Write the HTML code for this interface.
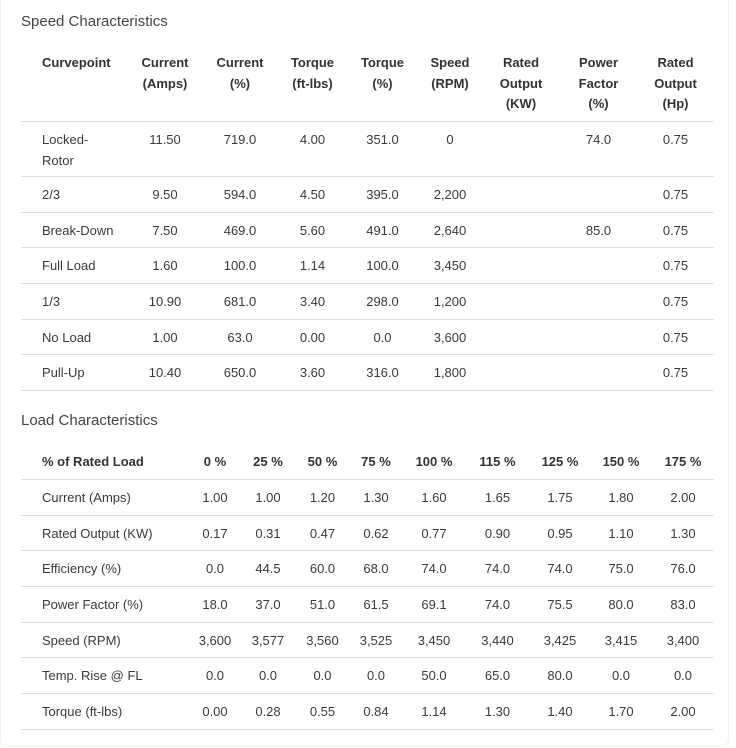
<!DOCTYPE html>
<html><head><meta charset="utf-8"><style>
body{margin:0;background:#fff;width:736px;height:748px;overflow:hidden;font-family:"Liberation Sans",sans-serif;color:#3a3a3a;}
.card{position:absolute;left:0;top:-10px;width:727px;height:754px;border:1px solid #f0f0f0;border-radius:6px;}
.title{position:absolute;left:21px;font-size:15px;color:#444;line-height:20px;}
table{position:absolute;left:21px;border-collapse:collapse;table-layout:fixed;font-size:13px;}
td,th{padding:0;text-align:center;border-bottom:1px solid #ddd;line-height:21px;}
th{font-weight:bold;color:#333;}
td:first-child,th:first-child{text-align:left;padding-left:21px;}
#sp th{vertical-align:top;padding-top:10px;height:68px;line-height:20.5px;}
#sp tr.r td{height:34.7px;}
#ld th{height:27px;padding-top:36px;vertical-align:top;line-height:20px;}
#ld tr.r td{height:34.7px;}
</style></head><body>
<div class="card"></div>
<div class="title" style="top:12px">Speed Characteristics</div>
<table id="sp" style="top:43px;width:693px">
<colgroup><col style="width:107px"><col style="width:74px"><col style="width:76px"><col style="width:69px"><col style="width:71px"><col style="width:64px"><col style="width:78px"><col style="width:77px"><col style="width:77px"></colgroup>
<tr><th>Curvepoint</th><th>Current<br>(Amps)</th><th>Current<br>(%)</th><th>Torque<br>(ft-lbs)</th><th>Torque<br>(%)</th><th>Speed<br>(RPM)</th><th>Rated<br>Output<br>(KW)</th><th>Power<br>Factor<br>(%)</th><th>Rated<br>Output<br>(Hp)</th></tr>
<tr><td style="height:47px;vertical-align:top;padding-top:7px">Locked-<br>Rotor</td><td style="vertical-align:top;padding-top:7px">11.50</td><td style="vertical-align:top;padding-top:7px">719.0</td><td style="vertical-align:top;padding-top:7px">4.00</td><td style="vertical-align:top;padding-top:7px">351.0</td><td style="vertical-align:top;padding-top:7px">0</td><td></td><td style="vertical-align:top;padding-top:7px">74.0</td><td style="vertical-align:top;padding-top:7px">0.75</td></tr>
<tr class="r"><td>2/3</td><td>9.50</td><td>594.0</td><td>4.50</td><td>395.0</td><td>2,200</td><td></td><td></td><td>0.75</td></tr>
<tr class="r"><td>Break-Down</td><td>7.50</td><td>469.0</td><td>5.60</td><td>491.0</td><td>2,640</td><td></td><td>85.0</td><td>0.75</td></tr>
<tr class="r"><td>Full Load</td><td>1.60</td><td>100.0</td><td>1.14</td><td>100.0</td><td>3,450</td><td></td><td></td><td>0.75</td></tr>
<tr class="r"><td>1/3</td><td>10.90</td><td>681.0</td><td>3.40</td><td>298.0</td><td>1,200</td><td></td><td></td><td>0.75</td></tr>
<tr class="r"><td>No Load</td><td>1.00</td><td>63.0</td><td>0.00</td><td>0.0</td><td>3,600</td><td></td><td></td><td>0.75</td></tr>
<tr class="r"><td>Pull-Up</td><td>10.40</td><td>650.0</td><td>3.60</td><td>316.0</td><td>1,800</td><td></td><td></td><td>0.75</td></tr>
</table>
<div class="title" style="top:411px">Load Characteristics</div>
<table id="ld" style="top:416px;width:693px">
<colgroup><col style="width:169px"><col style="width:50px"><col style="width:56px"><col style="width:53px"><col style="width:54px"><col style="width:62px"><col style="width:65px"><col style="width:60px"><col style="width:62px"><col style="width:62px"></colgroup>
<tr><th>% of Rated Load</th><th>0 %</th><th>25 %</th><th>50 %</th><th>75 %</th><th>100 %</th><th>115 %</th><th>125 %</th><th>150 %</th><th>175 %</th></tr>
<tr class="r"><td>Current (Amps)</td><td>1.00</td><td>1.00</td><td>1.20</td><td>1.30</td><td>1.60</td><td>1.65</td><td>1.75</td><td>1.80</td><td>2.00</td></tr>
<tr class="r"><td>Rated Output (KW)</td><td>0.17</td><td>0.31</td><td>0.47</td><td>0.62</td><td>0.77</td><td>0.90</td><td>0.95</td><td>1.10</td><td>1.30</td></tr>
<tr class="r"><td>Efficiency (%)</td><td>0.0</td><td>44.5</td><td>60.0</td><td>68.0</td><td>74.0</td><td>74.0</td><td>74.0</td><td>75.0</td><td>76.0</td></tr>
<tr class="r"><td>Power Factor (%)</td><td>18.0</td><td>37.0</td><td>51.0</td><td>61.5</td><td>69.1</td><td>74.0</td><td>75.5</td><td>80.0</td><td>83.0</td></tr>
<tr class="r"><td>Speed (RPM)</td><td>3,600</td><td>3,577</td><td>3,560</td><td>3,525</td><td>3,450</td><td>3,440</td><td>3,425</td><td>3,415</td><td>3,400</td></tr>
<tr class="r"><td>Temp. Rise @ FL</td><td>0.0</td><td>0.0</td><td>0.0</td><td>0.0</td><td>50.0</td><td>65.0</td><td>80.0</td><td>0.0</td><td>0.0</td></tr>
<tr class="r"><td>Torque (ft-lbs)</td><td>0.00</td><td>0.28</td><td>0.55</td><td>0.84</td><td>1.14</td><td>1.30</td><td>1.40</td><td>1.70</td><td>2.00</td></tr>
</table>
</body></html>
